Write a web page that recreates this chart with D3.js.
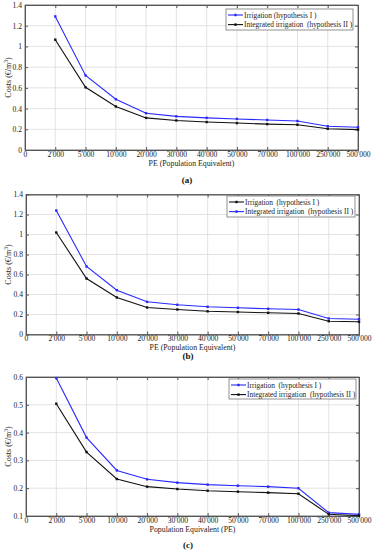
<!DOCTYPE html>
<html>
<head>
<meta charset="utf-8">
<script src="https://cdn.jsdelivr.net/npm/d3@7"></script>
<style>
  body { margin: 0; background: #fff; }
  text { font-family: "Liberation Serif", "Times New Roman", serif; white-space: pre; }
</style>
</head>
<body>
<svg id="chart" width="373" height="550"></svg>
<script>
// categories on x axis (index 0 is the "0" origin tick)
const categories = ["2'000", "5'000", "10'000", "20'000", "30'000", "40'000", "50'000", "70'000", "100'000", "250'000", "500'000"];

// panel (a)
const aIrrigation = [1.29, 0.72, 0.49, 0.355, 0.325, 0.31, 0.30, 0.29, 0.28, 0.23, 0.22];
const aIntegrated = [1.065, 0.605, 0.42, 0.31, 0.285, 0.27, 0.26, 0.25, 0.244, 0.205, 0.197];

// panel (b)
const bIrrigation = [1.02, 0.56, 0.37, 0.27, 0.25, 0.232, 0.225, 0.217, 0.21, 0.133, 0.127];
const bIntegrated = [1.24, 0.68, 0.443, 0.327, 0.297, 0.277, 0.267, 0.257, 0.25, 0.16, 0.153];

// panel (c)
const cIrrigation = [0.596, 0.382, 0.264, 0.232, 0.22, 0.213, 0.209, 0.2055, 0.2, 0.112, 0.106];
const cIntegrated = [0.504, 0.33, 0.233, 0.2055, 0.197, 0.191, 0.1875, 0.184, 0.18, 0.106, 0.101];

const yTicksAB = [0, 0.2, 0.4, 0.6, 0.8, 1, 1.2, 1.4];
const yTicksC = [0.1, 0.2, 0.3, 0.4, 0.5, 0.6];

const BLUE = "#2a2aff";
const BLACK = "#111";

const svg = d3.select("#chart");

function drawPanel(opt) {
    const g = svg.append("g");
    const x = d3.scaleLinear().domain([0, categories.length]).range([opt.left, opt.right]);
    const y = d3.scaleLinear().domain(opt.yDomain).range([opt.bottom, opt.top]);

    // grid
    g.selectAll(".gx").data(d3.range(1, categories.length))
        .join("line")
        .attr("x1", d => x(d)).attr("x2", d => x(d))
        .attr("y1", opt.top).attr("y2", opt.bottom)
        .attr("stroke", "#dcdcdc").attr("stroke-width", 0.8);
    g.selectAll(".gy").data(opt.yTicks.slice(1, -1))
        .join("line")
        .attr("x1", opt.left).attr("x2", opt.right)
        .attr("y1", d => y(d)).attr("y2", d => y(d))
        .attr("stroke", "#dcdcdc").attr("stroke-width", 0.8);

    // axes (inward ticks, MATLAB style)
    const xTickVals = d3.range(0, categories.length + 1);
    const fmtX = i => i === 0 ? "0" : categories[i - 1];
    const xAxis = d3.axisBottom(x).tickValues(xTickVals).tickFormat(fmtX).tickSizeInner(-3).tickSizeOuter(0).tickPadding(1.5);
    const yAxis = d3.axisLeft(y).tickValues(opt.yTicks).tickFormat(d3.format("~g")).tickSizeInner(-3).tickSizeOuter(0).tickPadding(3);

    g.append("g").attr("transform", `translate(0,${opt.bottom})`).call(xAxis);
    g.append("g").attr("transform", `translate(${opt.left},0)`).call(yAxis);
    g.append("g").attr("transform", `translate(0,${opt.top})`)
        .call(d3.axisTop(x).tickValues(xTickVals).tickFormat("").tickSizeInner(-3).tickSizeOuter(0));
    g.append("g").attr("transform", `translate(${opt.right},0)`)
        .call(d3.axisRight(y).tickValues(opt.yTicks).tickFormat("").tickSizeInner(-3).tickSizeOuter(0));
    g.selectAll(".domain").attr("stroke", "#555");
    g.selectAll(".tick line").attr("stroke", "#555");
    g.selectAll(".tick text").attr("font-family", "Liberation Serif").attr("font-size", 7.6).attr("fill", "#222");

    // frame
    g.append("rect")
        .attr("x", opt.left).attr("y", opt.top)
        .attr("width", opt.right - opt.left).attr("height", opt.bottom - opt.top)
        .attr("fill", "none").attr("stroke", "#555").attr("stroke-width", 0.8);

    // series
    const line = d3.line().x((d, i) => x(i + 1)).y(d => y(d));
    opt.series.forEach(s => {
        g.append("path").datum(s.values)
            .attr("d", line).attr("fill", "none")
            .attr("stroke", s.color).attr("stroke-width", 1.1);
        g.selectAll(null).data(s.values).join("rect")
            .attr("x", (d, i) => x(i + 1) - 1.2).attr("y", d => y(d) - 1.2)
            .attr("width", 2.4).attr("height", 2.4)
            .attr("fill", s.color);
    });

    // labels
    g.append("text")
        .attr("x", (opt.left + opt.right) / 2).attr("y", opt.bottom + opt.titleOffset)
        .attr("text-anchor", "middle").attr("font-size", 7.8).attr("fill", "#222")
        .text(opt.xTitle);
    const ym = (opt.top + opt.bottom) / 2;
    const yl = g.append("text")
        .attr("transform", `translate(11,${ym}) rotate(-90)`)
        .attr("text-anchor", "middle").attr("font-size", 8).attr("fill", "#222");
    yl.append("tspan").text("Costs (\u20ac/m");
    yl.append("tspan").attr("dy", -3).attr("font-size", 5.5).text("3");
    yl.append("tspan").attr("dy", 3).text(")");

    g.append("text")
        .attr("x", opt.captionX).attr("y", opt.captionY)
        .attr("text-anchor", "middle").attr("font-size", 9).attr("font-weight", "bold").attr("fill", "#111")
        .text(opt.caption);

    // legend
    const L = opt.legend;
    g.append("rect")
        .attr("x", L.x).attr("y", L.y).attr("width", L.w).attr("height", L.h)
        .attr("fill", "#fff").attr("stroke", "#777").attr("stroke-width", 0.8);
    opt.series.forEach((s, i) => {
        const cy = L.y + 6 + i * L.row;
        g.append("line")
            .attr("x1", L.x + 2).attr("x2", L.x + 17)
            .attr("y1", cy).attr("y2", cy)
            .attr("stroke", s.color).attr("stroke-width", 1.1);
        g.append("rect")
            .attr("x", L.x + 8.3).attr("y", cy - 1.2).attr("width", 2.4).attr("height", 2.4)
            .attr("fill", s.color);
        g.append("text")
            .attr("x", L.x + 18).attr("y", cy + 2.5)
            .attr("font-size", 7.4).attr("fill", "#222")
            .text(s.name);
    });
}

drawPanel({
    left: 25, right: 358, top: 5, bottom: 150,
    yDomain: [0, 1.4], yTicks: yTicksAB,
    xTitle: "PE (Population Equivalent)", titleOffset: 16,
    caption: "(a)", captionX: 187, captionY: 183,
    legend: { x: 226, y: 9, w: 127, h: 21, row: 9.6 },
    series: [
        { name: "Irrigation (hypothesis I )", values: aIrrigation, color: BLUE },
        { name: "Integrated irrigation  (hypothesis II )", values: aIntegrated, color: BLACK }
    ]
});

drawPanel({
    left: 26, right: 359, top: 194.5, bottom: 334.5,
    yDomain: [0, 1.4], yTicks: yTicksAB,
    xTitle: "PE (Population Equivalent)", titleOffset: 15.5,
    caption: "(b)", captionX: 188, captionY: 359,
    legend: { x: 227, y: 196, w: 128, h: 21, row: 9.6 },
    series: [
        { name: "Irrigation  (hypothesis I )", values: bIrrigation, color: BLACK },
        { name: "Integrated irrigation  (hypothesis II )", values: bIntegrated, color: BLUE }
    ]
});

drawPanel({
    left: 26, right: 359, top: 377, bottom: 516,
    yDomain: [0.1, 0.6], yTicks: yTicksC,
    xTitle: "Population Equivalent (PE)", titleOffset: 15.5,
    caption: "(c)", captionX: 188, captionY: 548,
    legend: { x: 229, y: 379, w: 127, h: 20, row: 9.6 },
    series: [
        { name: "Irrigation  (hypothesis I )", values: cIrrigation, color: BLUE },
        { name: "Integrated irrigation  (hypothesis II )", values: cIntegrated, color: BLACK }
    ]
});
</script>
</body>
</html>
